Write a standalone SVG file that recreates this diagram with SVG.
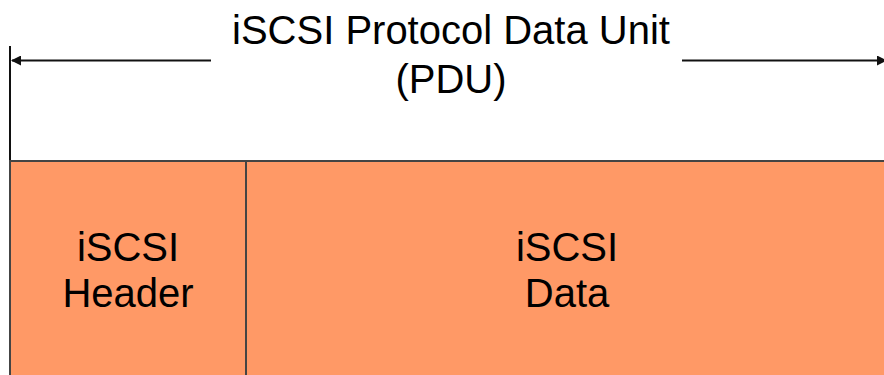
<svg xmlns="http://www.w3.org/2000/svg" width="884" height="375" viewBox="0 0 884 375">
  <style>
    .lbl { font-family: "Liberation Sans", Arial, sans-serif; font-size: 40px; fill: #000; text-anchor: middle; }
    .cell { fill: #FF9966; stroke: #444; stroke-width: 2; }
    .dim { stroke: #111; stroke-width: 2; fill: none; }
  </style>
  <defs>
    <marker id="head" viewBox="0 0 10 10" refX="9" refY="5" markerWidth="5" markerHeight="5" orient="auto-start-reverse" markerUnits="strokeWidth">
      <path d="M0,0 L10,5 L0,10 z" fill="#111"/>
    </marker>
  </defs>
  <rect x="0" y="0" width="884" height="375" fill="#fff"/>

  <!-- PDU span: extent bar with title -->
  <g id="connectors">
    <line class="dim" x1="10" y1="46" x2="10" y2="161" stroke="#555" stroke-width="1.5"/>
    <line class="dim" x1="211" y1="60.5" x2="12" y2="60.5" marker-end="url(#head)"/>
    <line class="dim" x1="682" y1="60.5" x2="886" y2="60.5" marker-end="url(#head)"/>
  </g>

  <g id="title">
    <text class="lbl" x="451" y="44">iSCSI Protocol Data Unit</text>
    <text class="lbl" x="451" y="93">(PDU)</text>
  </g>

  <g id="header">
    <rect class="cell" x="10" y="161" width="236" height="220"/>
    <text class="lbl" x="128" y="261">iSCSI</text>
    <text class="lbl" x="128" y="307">Header</text>
  </g>

  <g id="data">
    <rect class="cell" x="246" y="161" width="645" height="220"/>
    <text class="lbl" x="567" y="261">iSCSI</text>
    <text class="lbl" x="567" y="307">Data</text>
  </g>
</svg>
